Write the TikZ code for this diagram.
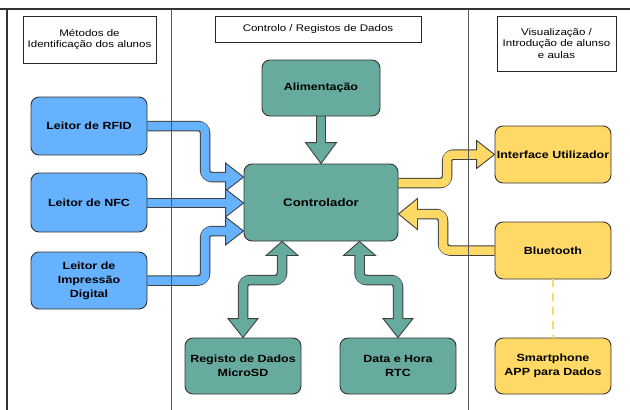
\documentclass[tikz,border=0pt]{standalone}
\usepackage{fontspec}
\setmainfont{Liberation Sans}
\newfontfamily\lab[FakeStretch=1.2]{Liberation Sans}
\usetikzlibrary{calc,backgrounds}
\definecolor{cblue}{HTML}{66B2FF}
\definecolor{cteal}{HTML}{67AB9F}
\definecolor{cyel}{HTML}{FFD966}
\definecolor{cline}{HTML}{333333}
\newcommand\headR[4]{\filldraw[headst,fill=#4] ($(#1)+(-#2,-#3)$) -- (#1) -- ($(#1)+(-#2,#3)$) -- cycle;}
\newcommand\headL[4]{\filldraw[headst,fill=#4] ($(#1)+(#2,-#3)$) -- (#1) -- ($(#1)+(#2,#3)$) -- cycle;}
\newcommand\headD[4]{\filldraw[headst,fill=#4] ($(#1)+(-#3,-#2)$) -- (#1) -- ($(#1)+(#3,-#2)$) -- cycle;}
\newcommand\headU[4]{\filldraw[headst,fill=#4] ($(#1)+(-#3,#2)$) -- (#1) -- ($(#1)+(#3,#2)$) -- cycle;}
\begin{document}
\begin{tikzpicture}[x=1pt,y=-1pt,
  hdr/.style={draw=black!85, line width=0.7pt, fill=white, align=center, inner sep=1pt,
    font=\lab\fontsize{9.6}{11.8}\selectfont},
  box/.style={draw=black!80, line width=0.9pt, rounded corners=8pt, minimum width=116pt,
    minimum height=57pt, align=center, inner sep=1pt,
    font=\lab\bfseries\fontsize{10.4}{14}\selectfont},
  bluebox/.style={box, fill=cblue},
  tealbox/.style={box, fill=cteal},
  yelbox/.style={box, fill=cyel},
  shout/.style={line width=10.5pt, draw=black!75, rounded corners=7pt, line cap=butt},
  shin/.style={line width=8.5pt, rounded corners=6pt, line cap=rect},
  headst/.style={draw=black!75, line width=0.9pt, line join=miter},
  divider/.style={draw=black!65, line width=0.8pt}]
\useasboundingbox (0,0) rectangle (630,410);

% headers
\node[hdr, minimum width=133pt, minimum height=47pt] (hL) at (89.5,39.5) {Métodos de\\Identificação dos alunos};
\node[hdr, minimum width=206pt, minimum height=26pt] (hM) at (318,29) {Controlo / Registos de Dados};
\node[hdr, minimum width=119pt, minimum height=55pt] (hR) at (556.5,43.5) {Visualização /\\Introdução de alunso\\e aulas};

% left column
\node[bluebox, minimum height=58pt] (rfid) at (89,126) {Leitor de RFID};
\node[bluebox, minimum height=59pt] (nfc) at (89,202.5) {Leitor de NFC};
\node[bluebox] (imp) at (89,280.5) {Leitor de\\Impressão\\Digital};

% middle column
\node[tealbox, minimum width=118pt, minimum height=56pt] (alim) at (321,88) {Alimentação};
\node[tealbox, minimum width=154pt, minimum height=77pt, font=\lab\bfseries\fontsize{11}{13}\selectfont] (ctrl) at (321,202.5) {Controlador};
\node[tealbox, minimum height=56pt] (sd) at (243,366) {Registo de Dados\\MicroSD};
\node[tealbox, minimum height=56pt] (rtc) at (398,366) {Data e Hora\\RTC};

% right column
\node[yelbox] (iface) at (553,154.5) {Interface Utilizador};
\node[yelbox] (bt) at (553,250.5) {Bluetooth};
\node[yelbox, minimum height=56pt] (phone) at (553,366) {Smartphone\\APP para Dados};

% tip coordinates
\coordinate (t1) at (ctrl.west |- 0,177);
\coordinate (t2) at (ctrl.west |- 0,203);
\coordinate (t3) at (ctrl.west |- 0,231);
\coordinate (t4) at (ctrl.north);
\coordinate (t5) at (iface.west);
\coordinate (t6) at (ctrl.east |- 0,214);
\coordinate (u1) at (ctrl.south -| 282,0);
\coordinate (d1) at (sd.north);
\coordinate (u2) at (ctrl.south -| 359.5,0);
\coordinate (d2) at (rtc.north);

\begin{scope}[on background layer]
% RFID -> Controlador
\draw[shout] (rfid.east) -- (205,126) -- (205,177) -- ($(t1)+(-18,0)$);
\headR{t1}{18}{14}{cblue}
\draw[shin,draw=cblue] (rfid.east) -- (205,126) -- (205,177) -- ($(t1)+(-18.5,0)$);
% NFC -> Controlador
\draw[shout] (nfc.east |- t2) -- ($(t2)+(-18,0)$);
\headR{t2}{18}{14}{cblue}
\draw[shin,draw=cblue] (nfc.east |- t2) -- ($(t2)+(-18.5,0)$);
% Impressao -> Controlador
\draw[shout] (imp.east) -- (205,280.5) -- (205,231) -- ($(t3)+(-18,0)$);
\headR{t3}{18}{14}{cblue}
\draw[shin,draw=cblue] (imp.east) -- (205,280.5) -- (205,231) -- ($(t3)+(-18.5,0)$);
% Alimentacao -> Controlador
\draw[shout] (alim.south) -- ($(t4)+(0,-21)$);
\headD{t4}{21}{15.5}{cteal}
\draw[shin,draw=cteal] (alim.south) -- ($(t4)+(0,-21.5)$);
% Controlador -> Interface
\draw[shout] (ctrl.east |- 0,183) -- (447,183) -- (447,154.5) -- ($(t5)+(-18,0)$);
\headR{t5}{18}{14}{cyel}
\draw[shin,draw=cyel] (ctrl.east |- 0,183) -- (447,183) -- (447,154.5) -- ($(t5)+(-18.5,0)$);
% Bluetooth -> Controlador
\draw[shout] (bt.west) -- (443,250.5) -- (443,214) -- ($(t6)+(19,0)$);
\headL{t6}{19}{15.5}{cyel}
\draw[shin,draw=cyel] (bt.west) -- (443,250.5) -- (443,214) -- ($(t6)+(19.5,0)$);
% Controlador <-> MicroSD
\draw[shout] ($(u1)+(0,14)$) -- (282,280) -- (243,280) -- ($(d1)+(0,-19)$);
\headU{u1}{14}{16}{cteal}
\headD{d1}{19}{15}{cteal}
\draw[shin,draw=cteal] ($(u1)+(0,14.5)$) -- (282,280) -- (243,280) -- ($(d1)+(0,-19.5)$);
% Controlador <-> RTC
\draw[shout] ($(u2)+(0,14)$) -- (359.5,280) -- (398,280) -- ($(d2)+(0,-19)$);
\headU{u2}{14}{16}{cteal}
\headD{d2}{19}{15}{cteal}
\draw[shin,draw=cteal] ($(u2)+(0,14.5)$) -- (359.5,280) -- (398,280) -- ($(d2)+(0,-19.5)$);
\end{scope}

% Bluetooth -- Smartphone dashed link
\draw[cyel, line width=2.5pt, dash pattern=on 8pt off 6pt] (bt.south) -- (phone.north);

% frame and dividers
\draw[cline, line width=1.3pt] (0,9) -- (630,9);
\draw[cline, line width=1.8pt] (7,9) -- (7,410);
\draw[divider] (171,9) -- (171,410);
\draw[divider] (468,9) -- (468,410);
\end{tikzpicture}
\end{document}
